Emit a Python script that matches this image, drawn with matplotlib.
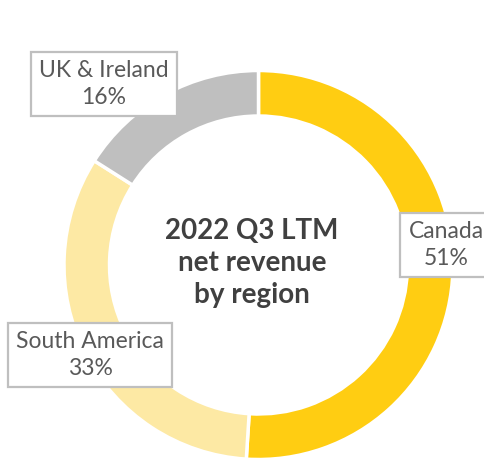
import matplotlib
matplotlib.use("Agg")
import matplotlib.pyplot as plt

## canvas properties
params = {'font.family': ['Lato', 'DejaVu Sans']}
matplotlib.rcParams.update(params)

# data
regions = ['Canada', 'South America', 'UK & Ireland']
shares = [51, 33, 16]
colors = ['#FFCD12', '#FDE9A4', '#BFBFBF']
title_lines = ['2022 Q3 LTM', 'net revenue', 'by region']

W, H = 485, 458
fig = plt.figure(figsize=(W / 100, H / 100), dpi=100)
ax = fig.add_axes([0, 0, 1, 1])

cx, cy, R = 258.5, H - 265, 194.5
ax.pie(shares, colors=colors, startangle=90, counterclock=False,
       center=(cx, cy), radius=R, frame=True,
       wedgeprops=dict(width=R * 0.234, edgecolor='white', linewidth=2.5))
ax.set_xlim(0, W)
ax.set_ylim(0, H)
ax.set_aspect('equal')
ax.axis('off')

# center title
ax.text(252, H - 263, '\n'.join(title_lines), ha='center', va='center',
        fontsize=20, fontweight='bold', color='#404040', linespacing=1.3)

# label boxes (pixel centers)
label_pos = {'Canada': (446, H - 245),
             'South America': (90, H - 355),
             'UK & Ireland': (104, H - 84)}
box = dict(boxstyle='square,pad=0.35', facecolor='white',
           edgecolor='#BFBFBF', linewidth=1.6)
for name, pct in zip(regions, shares):
    x, y = label_pos[name]
    ax.text(x, y, f'{name}\n{pct}%', ha='center', va='center',
            multialignment='center', fontsize=16.5, color='#595959',
            linespacing=1.4, bbox=box)

fig.savefig('out.png', dpi=100)
